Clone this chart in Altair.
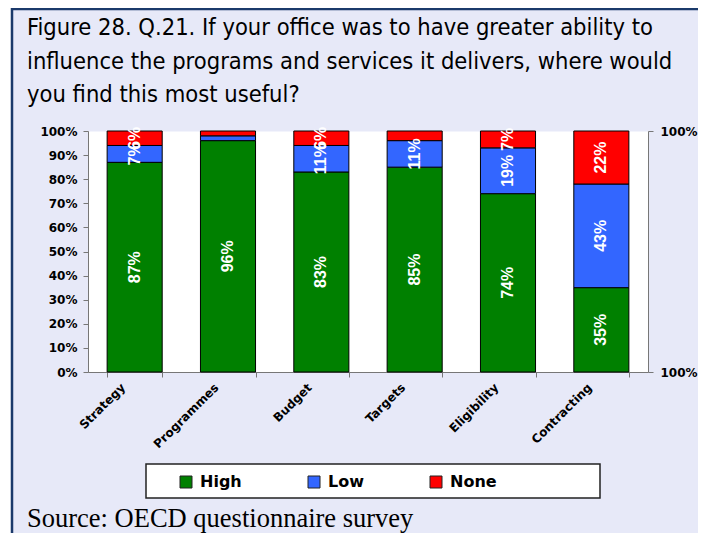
import altair as alt
import pandas as pd

categories = ["Strategy", "Programmes", "Budget", "Targets", "Eligibility", "Contracting"]
series = ["High", "Low", "None"]
high = [87, 96, 83, 85, 74, 35]
low = [7, 2, 11, 11, 19, 43]
none_ = [6, 2, 6, 4, 7, 22]
colors = ["#008000", "#3366FF", "#FF0000"]
y_ticks = [0, 0.1, 0.2, 0.3, 0.4, 0.5, 0.6, 0.7, 0.8, 0.9, 1.0]
title_lines = [
    "Figure 28. Q.21. If your office was to have greater ability to",
    "influence the programs and services it delivers, where would",
    "you find this most useful?",
]
source_text = "Source: OECD questionnaire survey"

rows = []
for i, c in enumerate(categories):
    for j, (s, vals) in enumerate(zip(series, [high, low, none_])):
        v = vals[i]
        rows.append({"cat": c, "series": s, "order": j, "value": v / 100.0,
                     "label": f"{v}%" if v >= 5 else ""})
df = pd.DataFrame(rows)
one = pd.DataFrame({"k": [0]})

W, H = 560, 241
NAVY = "#1B3A6B"

x_enc = alt.X(
    "cat:N", sort=categories, title=None,
    scale=alt.Scale(paddingInner=0.41, paddingOuter=0.205),
    axis=alt.Axis(tickBand="extent", labelAngle=315, labelAlign="right",
                  labelBaseline="middle", labelFont="DejaVu Sans",
                  labelFontWeight="bold", labelFontSize=12, labelColor="black",
                  tickSize=5, labelPadding=8, labelOffset=-12,
                  domainColor="#777", tickColor="#777"),
)

bars = alt.Chart(df).mark_bar(stroke="black", strokeWidth=1).encode(
    x=x_enc,
    y=alt.Y("value:Q", stack="zero", title=None,
            scale=alt.Scale(domain=[0, 1]),
            axis=alt.Axis(values=y_ticks, format=".0%", grid=False,
                          labelFont="DejaVu Sans", labelFontWeight="bold",
                          labelFontSize=12, labelColor="black",
                          tickSize=5, labelPadding=6,
                          domainColor="#777", tickColor="#777")),
    color=alt.Color("series:N", scale=alt.Scale(domain=series, range=colors),
                    legend=alt.Legend(orient="none", legendX=90, legendY=343,
                                      direction="horizontal", title=None,
                                      symbolType="square", symbolSize=144,
                                      labelFont="DejaVu Sans", labelFontWeight="bold",
                                      labelFontSize=16, labelColor="black",
                                      columnPadding=64, labelOffset=6,
                                      symbolStrokeColor="#222", symbolStrokeWidth=1,
                                      padding=0)),
    order=alt.Order("order:Q"),
)

labels = alt.Chart(df).transform_stack(
    stack="value", groupby=["cat"], as_=["y0", "y1"],
    sort=[alt.SortField("order", "ascending")],
).transform_calculate(
    mid="(datum.y0 + datum.y1) / 2"
).mark_text(angle=270, color="white", font="Liberation Sans", fontWeight="bold",
            fontSize=16, align="center", baseline="middle").encode(
    x=alt.X("cat:N", sort=categories),
    y=alt.Y("mid:Q", scale=alt.Scale(domain=[0, 1]), axis=None),
    text="label:N",
)

right_axis = alt.Chart(one).mark_point(opacity=0).encode(
    y=alt.Y("k:Q", title=None, scale=alt.Scale(domain=[0, 1]),
            axis=alt.Axis(orient="right", values=[0, 1], labelExpr="'100%'",
                          grid=False, labelFont="DejaVu Sans", labelFontWeight="bold",
                          labelFontSize=12, labelColor="black", tickSize=5,
                          labelPadding=7, domainColor="#777", tickColor="#777")),
)

white_strip = alt.Chart(one).mark_rule(color="white", strokeWidth=3).encode(
    x=alt.value(-78.5), y=alt.value(-130), y2=alt.value(420))
left_border = alt.Chart(one).mark_rule(color=NAVY, strokeWidth=2.5).encode(
    x=alt.value(-76), y=alt.value(-123), y2=alt.value(420))
top_border = alt.Chart(one).mark_rule(color=NAVY, strokeWidth=2.5).encode(
    y=alt.value(-122), x=alt.value(-77), x2=alt.value(640))

legend_box = alt.Chart(one).mark_rect(fill="white", stroke="#222", strokeWidth=1.5).encode(
    x=alt.value(58), x2=alt.value(512), y=alt.value(333), y2=alt.value(367))

title_text = alt.Chart(one).mark_text(
    align="left", baseline="alphabetic", font="DejaVu Sans Condensed",
    fontSize=23.5, lineHeight=33.5, color="black"
).encode(x=alt.value(-61), y=alt.value(-96), text=alt.value(title_lines))

source = alt.Chart(one).mark_text(
    align="left", baseline="alphabetic", font="Liberation Serif",
    fontSize=26.5, color="black"
).encode(x=alt.value(-61), y=alt.value(396), text=alt.value(source_text))

chart = alt.layer(
    white_strip, left_border, top_border, bars, labels, right_axis,
    legend_box, title_text, source
).resolve_scale(y="independent").properties(
    width=W, height=H,
    autosize=alt.AutoSizeParams(type="none"),
    padding={"left": 80, "top": 123, "right": 50, "bottom": 161},
    background="#E7E9F8",
).configure_view(fill="white", stroke="transparent")

chart.save("out.html", embed_options={"renderer": "svg", "actions": False})
